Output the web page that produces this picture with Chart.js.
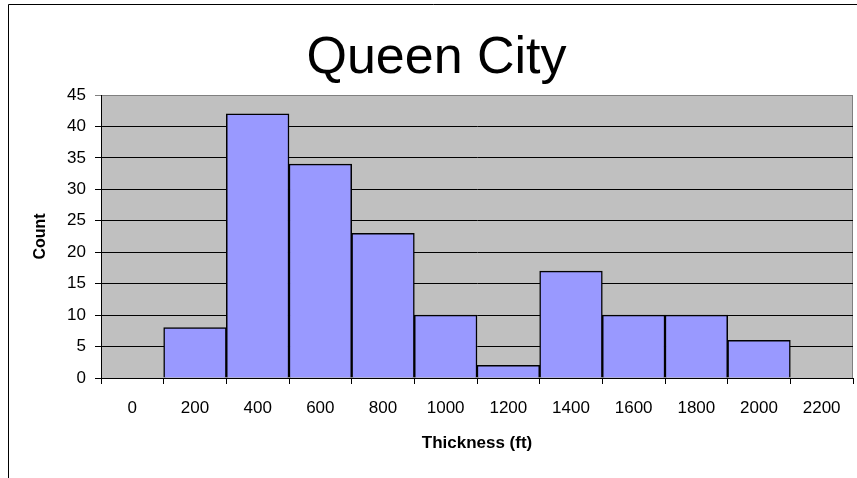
<!DOCTYPE html>
<html>
<head>
<meta charset="utf-8">
<script src="https://cdn.jsdelivr.net/npm/chart.js@4/dist/chart.umd.min.js"></script>
<style>
  html, body { margin: 0; padding: 0; background: #ffffff; }
  #wrap { width: 857px; height: 478px; position: relative; }
</style>
</head>
<body>
<div id="wrap"><canvas id="histo" width="857" height="478"></canvas></div>
<script>
// Thickness bins (ft) and the number of wells in each bin
const binLabels = ['0', '200', '400', '600', '800', '1000', '1200', '1400', '1600', '1800', '2000', '2200'];
const counts = [0, 8, 42, 34, 23, 10, 2, 17, 10, 10, 6, 0];
const countTicksMax = 45;
const countTickStep = 5;

const chartTitle = 'Queen City';
const xTitle = 'Thickness (ft)';
const yTitle = 'Count';

const FONT = "'Liberation Sans', Arial, sans-serif";

// Gray plot background, outer frame and the big title
const framePlugin = {
  id: 'framePlugin',
  beforeDraw(chart) {
    const { ctx, chartArea: a } = chart;
    ctx.save();
    ctx.fillStyle = '#ffffff';
    ctx.fillRect(0, 0, chart.width, chart.height);
    // chart frame (left and top edges are inside the canvas)
    ctx.strokeStyle = '#000000';
    ctx.lineWidth = 1;
    ctx.beginPath();
    ctx.moveTo(8.5, chart.height + 2);
    ctx.lineTo(8.5, 4.5);
    ctx.lineTo(chart.width + 2, 4.5);
    ctx.stroke();
    // plot area
    ctx.fillStyle = '#c0c0c0';
    ctx.fillRect(a.left, a.top, a.right - a.left, a.bottom - a.top);
    ctx.strokeStyle = '#808080';
    ctx.strokeRect(a.left + 0.5, a.top + 0.5, a.right - a.left - 1, a.bottom - a.top);
    ctx.restore();
  },
  afterDraw(chart) {
    const { ctx } = chart;
    ctx.save();
    ctx.fillStyle = '#000000';
    ctx.font = '52px ' + FONT;
    ctx.textAlign = 'center';
    ctx.textBaseline = 'alphabetic';
    ctx.fillText(chartTitle, 436.5, 73);
    ctx.restore();
  }
};

new Chart(document.getElementById('histo'), {
  type: 'bar',
  data: {
    labels: binLabels,
    datasets: [{
      data: counts,
      backgroundColor: '#9999ff',
      borderColor: '#000000',
      borderWidth: 1.5,
      barPercentage: 1,
      categoryPercentage: 1
    }]
  },
  options: {
    responsive: false,
    animation: false,
    devicePixelRatio: 1,
    layout: { padding: { left: 0, right: 4, top: 95, bottom: 0 } },
    plugins: {
      legend: { display: false },
      title: { display: false },
      tooltip: { enabled: false }
    },
    scales: {
      x: {
        type: 'category',
        offset: true,
        grid: {
          offset: true,
          drawOnChartArea: false,
          drawTicks: true,
          tickLength: 6,
          color: '#000000',
          lineWidth: 1
        },
        border: { display: true, color: '#000000', width: 1 },
        ticks: {
          color: '#000000',
          font: { family: FONT, size: 17 },
          padding: 14,
          maxRotation: 0,
          autoSkip: false
        },
        title: {
          display: true,
          text: xTitle,
          color: '#000000',
          font: { family: FONT, size: 17, weight: 'bold' },
          padding: { top: 0, bottom: 24 }
        },
        afterFit(scale) { scale.height = 100; }
      },
      y: {
        min: 0,
        max: countTicksMax,
        grid: {
          color: (c) => (c.tick && c.tick.value === countTicksMax ? '#808080' : '#000000'),
          lineWidth: 1,
          drawTicks: true,
          tickLength: 6
        },
        border: { display: true, color: '#000000', width: 1 },
        ticks: {
          stepSize: countTickStep,
          color: '#000000',
          font: { family: FONT, size: 17 },
          padding: 9
        },
        title: {
          display: true,
          text: yTitle,
          color: '#000000',
          font: { family: FONT, size: 16, weight: 'bold' },
          padding: { top: 31, bottom: 0 }
        },
        afterFit(scale) { scale.width = 101; }
      }
    }
  },
  plugins: [framePlugin]
});
</script>
</body>
</html>
